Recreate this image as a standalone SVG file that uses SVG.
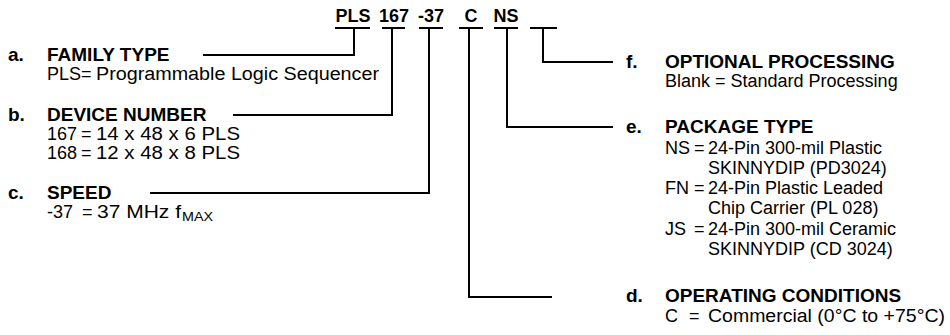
<svg xmlns="http://www.w3.org/2000/svg" width="950" height="335" viewBox="0 0 950 335">
<style>
text{font-family:"Liberation Sans",Arial,Helvetica,sans-serif;fill:#000}
.code{font-size:18px;font-weight:bold;text-anchor:middle}
.h{font-size:19px;font-weight:bold}
.t{font-size:18px}
.sub{font-size:13px}
.ln{fill:none;stroke:#000;stroke-width:2}
</style>
<rect width="950" height="335" fill="#fff"/>
<g id="code">
<text class="code" x="353" y="22">PLS</text>
<text class="code" x="394" y="22">167</text>
<text class="code" x="431" y="22">-37</text>
<text class="code" x="471" y="22">C</text>
<text class="code" x="506" y="22">NS</text>
</g>
<g id="connectors">
<path class="ln" d="M335 28H370M354 28V55H203"/>
<path class="ln" d="M382 28H405M392 28V115H233"/>
<path class="ln" d="M419 28H443M429 28V193H150"/>
<path class="ln" d="M459 28H483M469 28V297H552"/>
<path class="ln" d="M494 28H518M507 28V127H613"/>
<path class="ln" d="M530 28H557M543 28V62H613"/>
</g>
<g id="a">
<text class="h" x="8" y="61">a.</text>
<text class="h" x="47" y="61">FAMILY TYPE</text>
<text class="t" x="47" y="80">PLS=</text>
<text class="t" x="96" y="80" textLength="283" lengthAdjust="spacingAndGlyphs">Programmable Logic Sequencer</text>
</g>
<g id="b">
<text class="h" x="8" y="121">b.</text>
<text class="h" x="47" y="121">DEVICE NUMBER</text>
<text class="t" x="47" y="140">167</text>
<text class="t" x="81" y="140">=</text>
<text class="t" x="96" y="140" textLength="144" lengthAdjust="spacingAndGlyphs">14 x 48 x 6 PLS</text>
<text class="t" x="47" y="159">168</text>
<text class="t" x="81" y="159">=</text>
<text class="t" x="96" y="159" textLength="144" lengthAdjust="spacingAndGlyphs">12 x 48 x 8 PLS</text>
</g>
<g id="c">
<text class="h" x="8" y="199">c.</text>
<text class="h" x="47" y="199">SPEED</text>
<text class="t" x="47" y="218">-37</text>
<text class="t" x="82" y="218">=</text>
<text class="t" x="97" y="218" textLength="84" lengthAdjust="spacingAndGlyphs">37 MHz f</text>
<text class="sub" x="182" y="221" textLength="31" lengthAdjust="spacingAndGlyphs">MAX</text>
</g>
<g id="f">
<text class="h" x="626" y="68">f.</text>
<text class="h" x="665" y="68">OPTIONAL PROCESSING</text>
<text class="t" x="665" y="87">Blank = Standard Processing</text>
</g>
<g id="e">
<text class="h" x="626" y="133">e.</text>
<text class="h" x="665" y="133">PACKAGE TYPE</text>
<text class="t" x="665" y="154">NS</text>
<text class="t" x="694" y="154">=</text>
<text class="t" x="708" y="154">24-Pin 300-mil Plastic</text>
<text class="t" x="708" y="174">SKINNYDIP (PD3024)</text>
<text class="t" x="665" y="194">FN</text>
<text class="t" x="694" y="194">=</text>
<text class="t" x="708" y="194">24-Pin Plastic Leaded</text>
<text class="t" x="708" y="214">Chip Carrier (PL 028)</text>
<text class="t" x="665" y="235">JS</text>
<text class="t" x="694" y="235">=</text>
<text class="t" x="708" y="235">24-Pin 300-mil Ceramic</text>
<text class="t" x="708" y="255">SKINNYDIP (CD 3024)</text>
</g>
<g id="d">
<text class="h" x="626" y="302">d.</text>
<text class="h" x="665" y="302">OPERATING CONDITIONS</text>
<text class="t" x="665" y="322">C</text>
<text class="t" x="689" y="322">=</text>
<text class="t" x="708" y="322" textLength="237" lengthAdjust="spacingAndGlyphs">Commercial (0°C to +75°C)</text>
</g>
</svg>
